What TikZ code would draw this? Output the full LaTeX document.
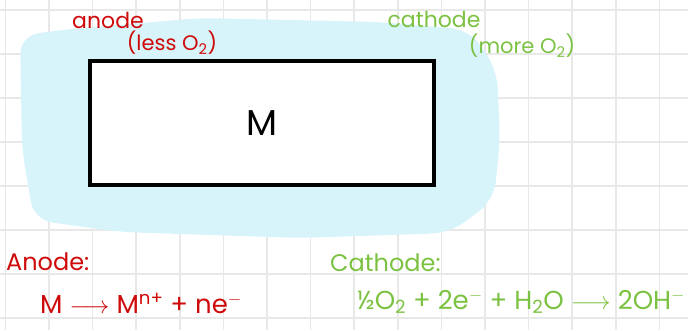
\documentclass[tikz,border=0pt]{standalone}
\usepackage{fontspec}
\setmainfont{Poppins}
\usetikzlibrary{positioning}
\definecolor{gridline}{HTML}{E8E8E8}
\definecolor{water}{HTML}{D8F4FB}
\definecolor{anodered}{HTML}{CF0A0A}
\definecolor{cathgreen}{HTML}{7CC242}
\tikzset{
  metal/.style={
    draw=black, line width=3.2pt, fill=white,
    minimum width=344pt, minimum height=124pt,
    font=\fontsize{36}{40}\selectfont
  },
  redlabel/.style={text=anodered, font=\fontsize{22}{26}\selectfont, inner sep=0pt},
  greenlabel/.style={text=cathgreen, font=\fontsize{22}{26}\selectfont, inner sep=0pt},
  eqn/.style={font=\fontsize{26}{30}\selectfont},
  gridrule/.style={draw=gridline, line width=1.6pt}
}

\begin{document}
\begin{tikzpicture}[x=1pt,y=-1pt]
        \useasboundingbox (0,0) rectangle (688,330);
        \clip (0,0) rectangle (688,330);
        % squared paper
        \foreach \i in {0,...,15} {
          \draw[gridrule] (5.4+43.6*\i,0) -- (5.4+43.6*\i,330);
        }
        \foreach \j in {0,...,7} {
          \draw[gridrule] (0,10+44*\j) -- (688,10+44*\j);
        }
        % water film
        \fill[water, rounded corners=18pt] (20,36) -- (60,30) -- (200,18) -- (380,22)
          -- (470,30) -- (497,70) -- (500,140) -- (494,200) -- (450,233) -- (300,238)
          -- (120,232) -- (34,220) -- (22,150) -- cycle;
        \node[metal] (m) at (262,123) {M};
        % labels
        \node[redlabel] (an) at (108,20) {anode};
        \node[redlabel, font=\fontsize{21}{24}\selectfont] (less) at (172,43) {(less O\textsubscript{2})};
        \node[greenlabel] (cat) at (434,19) {cathode};
        \node[greenlabel, font=\fontsize{21}{24}\selectfont] (more) at (522,46) {(more O\textsubscript{2})};
        % half reactions
        \node[redlabel, anchor=west, font=\fontsize{24}{28}\selectfont] (anr) at (6,262) {Anode:};
        \node[redlabel, eqn, anchor=west] (aneq) at (40,303)
          {M $\longrightarrow$ M\textsuperscript{n+} + ne\textsuperscript{$-$}};
        \node[greenlabel, anchor=west, font=\fontsize{24}{28}\selectfont] (catr) at (330,263) {Cathode:};
        \node[greenlabel, eqn, anchor=west] (cateq) at (357,302)
          {½O\textsubscript{2} + 2e\textsuperscript{$-$} + H\textsubscript{2}O $\longrightarrow$ 2OH\textsuperscript{$-$}};
      \end{tikzpicture}
\end{document}
